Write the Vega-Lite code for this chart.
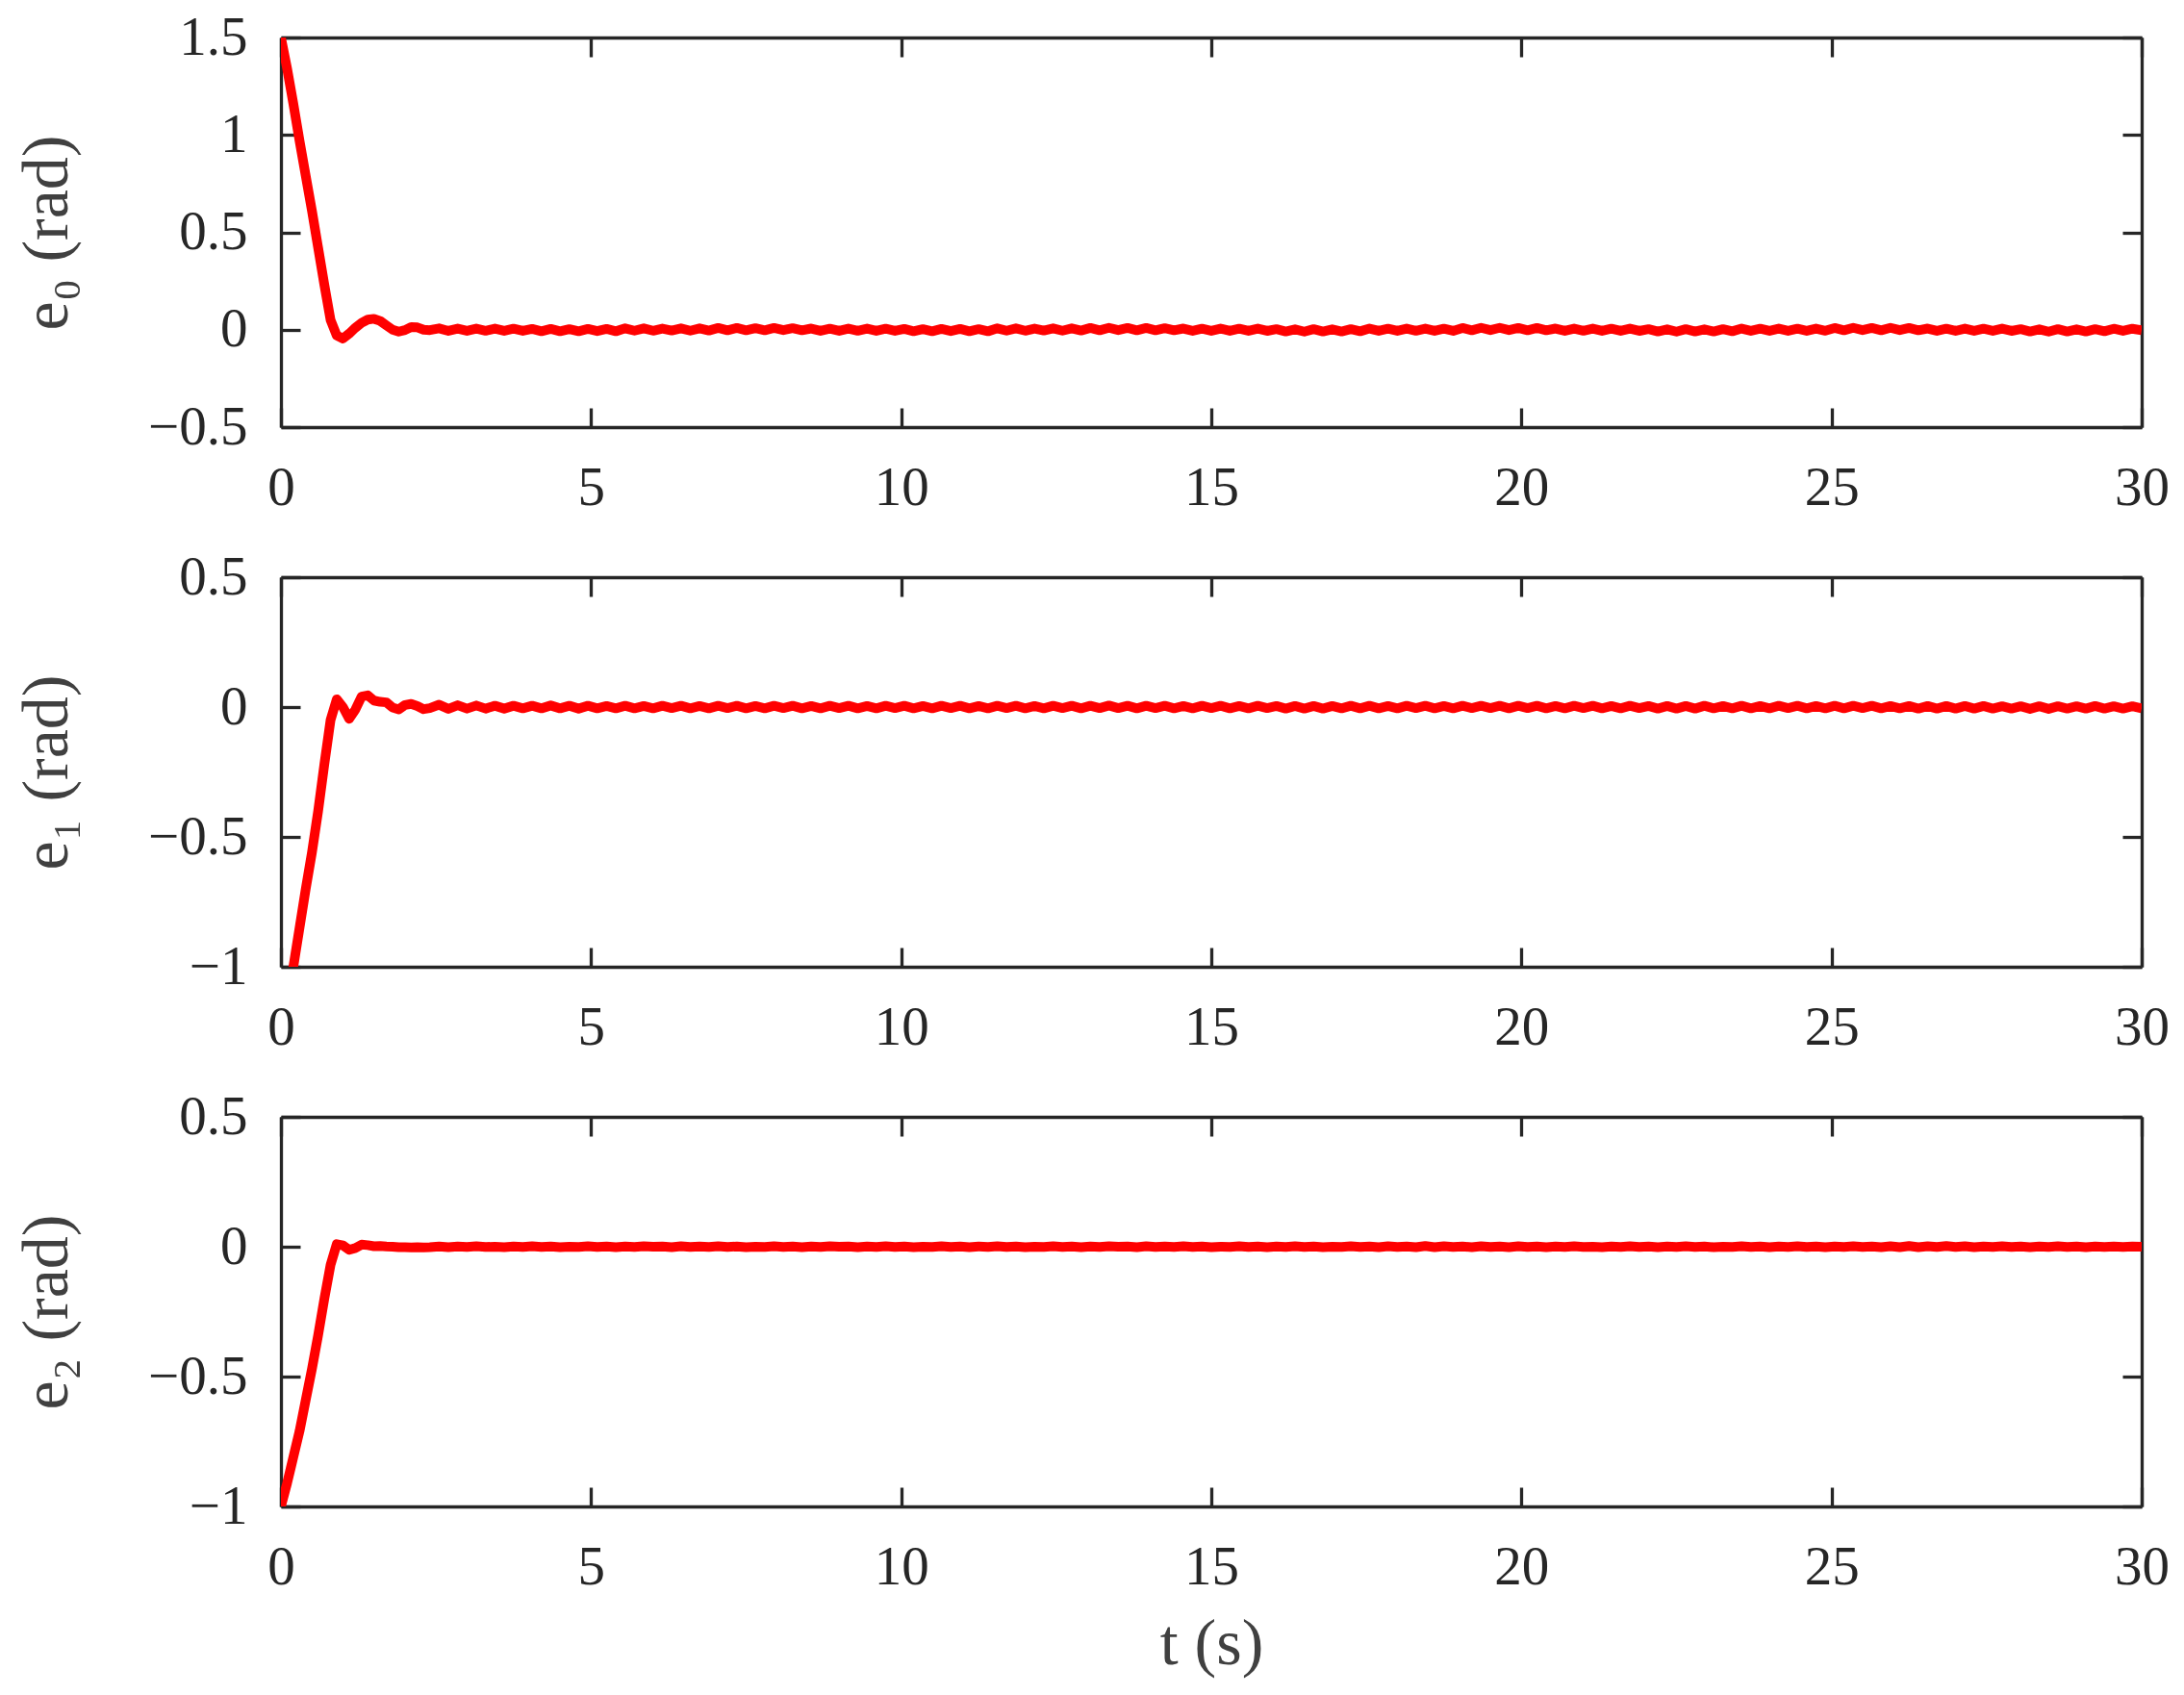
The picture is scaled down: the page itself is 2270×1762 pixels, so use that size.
{
"$schema": "https://vega.github.io/schema/vega-lite/v6.json",
"background": "white",
"padding": {"left": 15, "top": 10, "right": 10, "bottom": 10},
"bounds": "flush",
"spacing": 156,
"data": {"values": [
{"t":0,"e0":1.5,"e1":-1.3,"e2":-1.0},
{"t":0.1,"e0":1.34,"e1":-1.15,"e2":-0.91},
{"t":0.2,"e0":1.16,"e1":-1.0,"e2":-0.81},
{"t":0.3,"e0":0.97,"e1":-0.85,"e2":-0.71},
{"t":0.4,"e0":0.79,"e1":-0.7,"e2":-0.59},
{"t":0.5,"e0":0.61,"e1":-0.56,"e2":-0.47},
{"t":0.6,"e0":0.42,"e1":-0.4,"e2":-0.34},
{"t":0.7,"e0":0.23,"e1":-0.22,"e2":-0.2},
{"t":0.8,"e0":0.05,"e1":-0.05,"e2":-0.07},
{"t":0.9,"e0":-0.03,"e1":0.03,"e2":0.01},
{"t":1.0,"e0":-0.045,"e1":0.0,"e2":0.005},
{"t":1.1,"e0":-0.02,"e1":-0.045,"e2":-0.012},
{"t":1.2,"e0":0.01,"e1":-0.01,"e2":-0.005},
{"t":1.3,"e0":0.035,"e1":0.04,"e2":0.008},
{"t":1.4,"e0":0.052,"e1":0.045,"e2":0.006},
{"t":1.5,"e0":0.056,"e1":0.025,"e2":0.002},
{"t":1.6,"e0":0.045,"e1":0.02,"e2":0.003},
{"t":1.7,"e0":0.022,"e1":0.018,"e2":0.001},
{"t":1.8,"e0":0.0,"e1":-0.002,"e2":0.0},
{"t":1.9,"e0":-0.01,"e1":-0.009,"e2":-0.002},
{"t":2.0,"e0":-0.002,"e1":0.008,"e2":-0.002},
{"t":2.1,"e0":0.014,"e1":0.012,"e2":-0.003},
{"t":2.2,"e0":0.012,"e1":0.004,"e2":-0.002},
{"t":2.3,"e0":0.0,"e1":-0.008,"e2":-0.003},
{"t":2.4,"e0":-0.002,"e1":-0.004,"e2":-0.002},
{"t":2.55,"e0":0.007,"e1":0.009,"e2":0.001},
{"t":2.7,"e0":-0.006,"e1":-0.007,"e2":-0.002},
{"t":2.85,"e0":0.006,"e1":0.007,"e2":0.001},
{"t":3.0,"e0":-0.006,"e1":-0.006,"e2":-0.001},
{"t":3.15,"e0":0.006,"e1":0.006,"e2":0.002},
{"t":3.3,"e0":-0.005,"e1":-0.006,"e2":-0.001},
{"t":3.45,"e0":0.006,"e1":0.005,"e2":0.0},
{"t":3.6,"e0":-0.006,"e1":-0.006,"e2":-0.002},
{"t":3.75,"e0":0.005,"e1":0.005,"e2":0.001},
{"t":3.9,"e0":-0.006,"e1":-0.005,"e2":-0.001},
{"t":4.05,"e0":0.004,"e1":0.005,"e2":0.002},
{"t":4.2,"e0":-0.008,"e1":-0.005,"e2":-0.001},
{"t":4.35,"e0":0.004,"e1":0.006,"e2":0.001},
{"t":4.5,"e0":-0.008,"e1":-0.005,"e2":-0.002},
{"t":4.65,"e0":0.003,"e1":0.005,"e2":0.0},
{"t":4.8,"e0":-0.008,"e1":-0.006,"e2":-0.001},
{"t":4.95,"e0":0.004,"e1":0.005,"e2":0.002},
{"t":5.1,"e0":-0.007,"e1":-0.005,"e2":-0.001},
{"t":5.25,"e0":0.004,"e1":0.004,"e2":0.001},
{"t":5.4,"e0":-0.008,"e1":-0.005,"e2":-0.002},
{"t":5.55,"e0":0.007,"e1":0.005,"e2":0.001},
{"t":5.7,"e0":-0.005,"e1":-0.005,"e2":-0.001},
{"t":5.85,"e0":0.007,"e1":0.004,"e2":0.002},
{"t":6.0,"e0":-0.005,"e1":-0.005,"e2":0.0},
{"t":6.15,"e0":0.006,"e1":0.005,"e2":0.001},
{"t":6.3,"e0":-0.004,"e1":-0.004,"e2":-0.002},
{"t":6.45,"e0":0.007,"e1":0.005,"e2":0.002},
{"t":6.6,"e0":-0.005,"e1":-0.005,"e2":-0.001},
{"t":6.75,"e0":0.007,"e1":0.004,"e2":0.001},
{"t":6.9,"e0":-0.004,"e1":-0.005,"e2":-0.001},
{"t":7.05,"e0":0.009,"e1":0.005,"e2":0.002},
{"t":7.2,"e0":-0.003,"e1":-0.004,"e2":-0.001},
{"t":7.35,"e0":0.009,"e1":0.005,"e2":0.001},
{"t":7.5,"e0":-0.003,"e1":-0.005,"e2":-0.002},
{"t":7.65,"e0":0.008,"e1":0.004,"e2":0.0},
{"t":7.8,"e0":-0.003,"e1":-0.005,"e2":-0.001},
{"t":7.95,"e0":0.009,"e1":0.005,"e2":0.002},
{"t":8.1,"e0":-0.002,"e1":-0.004,"e2":-0.001},
{"t":8.25,"e0":0.008,"e1":0.005,"e2":0.001},
{"t":8.4,"e0":-0.003,"e1":-0.005,"e2":-0.002},
{"t":8.55,"e0":0.006,"e1":0.004,"e2":0.001},
{"t":8.7,"e0":-0.006,"e1":-0.005,"e2":-0.001},
{"t":8.85,"e0":0.005,"e1":0.005,"e2":0.002},
{"t":9.0,"e0":-0.006,"e1":-0.004,"e2":0.0},
{"t":9.15,"e0":0.006,"e1":0.005,"e2":0.001},
{"t":9.3,"e0":-0.005,"e1":-0.005,"e2":-0.002},
{"t":9.45,"e0":0.006,"e1":0.004,"e2":0.001},
{"t":9.6,"e0":-0.006,"e1":-0.005,"e2":-0.001},
{"t":9.75,"e0":0.005,"e1":0.005,"e2":0.002},
{"t":9.9,"e0":-0.006,"e1":-0.004,"e2":-0.001},
{"t":10.05,"e0":0.004,"e1":0.005,"e2":0.001},
{"t":10.2,"e0":-0.008,"e1":-0.005,"e2":-0.002},
{"t":10.35,"e0":0.003,"e1":0.004,"e2":0.0},
{"t":10.5,"e0":-0.008,"e1":-0.005,"e2":-0.001},
{"t":10.65,"e0":0.004,"e1":0.005,"e2":0.002},
{"t":10.8,"e0":-0.007,"e1":-0.004,"e2":-0.001},
{"t":10.95,"e0":0.004,"e1":0.005,"e2":0.001},
{"t":11.1,"e0":-0.008,"e1":-0.005,"e2":-0.002},
{"t":11.25,"e0":0.003,"e1":0.004,"e2":0.001},
{"t":11.4,"e0":-0.008,"e1":-0.005,"e2":-0.001},
{"t":11.55,"e0":0.007,"e1":0.005,"e2":0.002},
{"t":11.7,"e0":-0.005,"e1":-0.004,"e2":-0.001},
{"t":11.85,"e0":0.007,"e1":0.005,"e2":0.001},
{"t":12.0,"e0":-0.005,"e1":-0.005,"e2":-0.002},
{"t":12.15,"e0":0.006,"e1":0.004,"e2":0.0},
{"t":12.3,"e0":-0.004,"e1":-0.005,"e2":-0.001},
{"t":12.45,"e0":0.007,"e1":0.005,"e2":0.002},
{"t":12.6,"e0":-0.005,"e1":-0.004,"e2":-0.001},
{"t":12.75,"e0":0.007,"e1":0.005,"e2":0.001},
{"t":12.9,"e0":-0.004,"e1":-0.005,"e2":-0.002},
{"t":13.05,"e0":0.009,"e1":0.005,"e2":0.001},
{"t":13.2,"e0":-0.003,"e1":-0.004,"e2":-0.001},
{"t":13.35,"e0":0.010,"e1":0.006,"e2":0.002},
{"t":13.5,"e0":-0.002,"e1":-0.004,"e2":0.0},
{"t":13.65,"e0":0.009,"e1":0.005,"e2":0.001},
{"t":13.8,"e0":-0.003,"e1":-0.005,"e2":-0.002},
{"t":13.95,"e0":0.009,"e1":0.005,"e2":0.002},
{"t":14.1,"e0":-0.003,"e1":-0.004,"e2":-0.001},
{"t":14.25,"e0":0.008,"e1":0.005,"e2":0.001},
{"t":14.4,"e0":-0.003,"e1":-0.005,"e2":-0.001},
{"t":14.55,"e0":0.006,"e1":0.004,"e2":0.002},
{"t":14.7,"e0":-0.006,"e1":-0.005,"e2":-0.001},
{"t":14.85,"e0":0.005,"e1":0.005,"e2":0.001},
{"t":15.0,"e0":-0.006,"e1":-0.004,"e2":-0.002},
{"t":15.15,"e0":0.006,"e1":0.005,"e2":0.0},
{"t":15.3,"e0":-0.006,"e1":-0.005,"e2":-0.001},
{"t":15.45,"e0":0.005,"e1":0.004,"e2":0.002},
{"t":15.6,"e0":-0.006,"e1":-0.005,"e2":-0.001},
{"t":15.75,"e0":0.006,"e1":0.005,"e2":0.001},
{"t":15.9,"e0":-0.006,"e1":-0.004,"e2":-0.002},
{"t":16.05,"e0":0.003,"e1":0.004,"e2":0.001},
{"t":16.2,"e0":-0.009,"e1":-0.006,"e2":-0.001},
{"t":16.35,"e0":0.002,"e1":0.004,"e2":0.002},
{"t":16.5,"e0":-0.010,"e1":-0.006,"e2":-0.001},
{"t":16.65,"e0":0.003,"e1":0.004,"e2":0.001},
{"t":16.8,"e0":-0.009,"e1":-0.006,"e2":-0.002},
{"t":16.95,"e0":0.002,"e1":0.004,"e2":0.0},
{"t":17.1,"e0":-0.009,"e1":-0.005,"e2":-0.001},
{"t":17.25,"e0":0.003,"e1":0.005,"e2":0.002},
{"t":17.4,"e0":-0.008,"e1":-0.005,"e2":-0.001},
{"t":17.55,"e0":0.006,"e1":0.005,"e2":0.001},
{"t":17.7,"e0":-0.006,"e1":-0.005,"e2":-0.002},
{"t":17.85,"e0":0.005,"e1":0.004,"e2":0.002},
{"t":18.0,"e0":-0.006,"e1":-0.005,"e2":-0.001},
{"t":18.15,"e0":0.006,"e1":0.005,"e2":0.001},
{"t":18.3,"e0":-0.005,"e1":-0.004,"e2":-0.002},
{"t":18.45,"e0":0.006,"e1":0.005,"e2":0.003},
{"t":18.6,"e0":-0.006,"e1":-0.005,"e2":-0.002},
{"t":18.75,"e0":0.005,"e1":0.004,"e2":0.002},
{"t":18.9,"e0":-0.006,"e1":-0.005,"e2":-0.001},
{"t":19.05,"e0":0.009,"e1":0.005,"e2":0.001},
{"t":19.2,"e0":-0.003,"e1":-0.004,"e2":-0.002},
{"t":19.35,"e0":0.010,"e1":0.005,"e2":0.002},
{"t":19.5,"e0":-0.002,"e1":-0.004,"e2":-0.001},
{"t":19.65,"e0":0.010,"e1":0.005,"e2":0.001},
{"t":19.8,"e0":-0.002,"e1":-0.005,"e2":-0.002},
{"t":19.95,"e0":0.009,"e1":0.005,"e2":0.002},
{"t":20.1,"e0":-0.003,"e1":-0.004,"e2":-0.001},
{"t":20.25,"e0":0.009,"e1":0.005,"e2":0.001},
{"t":20.4,"e0":-0.003,"e1":-0.005,"e2":-0.002},
{"t":20.55,"e0":0.006,"e1":0.004,"e2":0.001},
{"t":20.7,"e0":-0.006,"e1":-0.005,"e2":-0.001},
{"t":20.85,"e0":0.006,"e1":0.005,"e2":0.002},
{"t":21.0,"e0":-0.005,"e1":-0.004,"e2":-0.001},
{"t":21.15,"e0":0.006,"e1":0.005,"e2":0.0},
{"t":21.3,"e0":-0.006,"e1":-0.005,"e2":-0.002},
{"t":21.45,"e0":0.005,"e1":0.004,"e2":0.001},
{"t":21.6,"e0":-0.006,"e1":-0.005,"e2":-0.001},
{"t":21.75,"e0":0.006,"e1":0.005,"e2":0.002},
{"t":21.9,"e0":-0.006,"e1":-0.004,"e2":-0.001},
{"t":22.05,"e0":0.003,"e1":0.004,"e2":0.001},
{"t":22.2,"e0":-0.009,"e1":-0.006,"e2":-0.002},
{"t":22.35,"e0":0.002,"e1":0.004,"e2":0.001},
{"t":22.5,"e0":-0.010,"e1":-0.006,"e2":-0.001},
{"t":22.65,"e0":0.003,"e1":0.004,"e2":0.002},
{"t":22.8,"e0":-0.009,"e1":-0.006,"e2":-0.001},
{"t":22.95,"e0":0.002,"e1":0.005,"e2":0.001},
{"t":23.1,"e0":-0.009,"e1":-0.005,"e2":-0.002},
{"t":23.25,"e0":0.003,"e1":0.004,"e2":0.0},
{"t":23.4,"e0":-0.008,"e1":-0.005,"e2":-0.001},
{"t":23.55,"e0":0.006,"e1":0.005,"e2":0.002},
{"t":23.7,"e0":-0.006,"e1":-0.005,"e2":-0.001},
{"t":23.85,"e0":0.005,"e1":0.004,"e2":0.001},
{"t":24.0,"e0":-0.006,"e1":-0.005,"e2":-0.002},
{"t":24.15,"e0":0.006,"e1":0.005,"e2":0.001},
{"t":24.3,"e0":-0.006,"e1":-0.004,"e2":-0.001},
{"t":24.45,"e0":0.005,"e1":0.005,"e2":0.002},
{"t":24.6,"e0":-0.006,"e1":-0.005,"e2":-0.001},
{"t":24.75,"e0":0.006,"e1":0.004,"e2":0.001},
{"t":24.9,"e0":-0.005,"e1":-0.005,"e2":-0.002},
{"t":25.05,"e0":0.009,"e1":0.005,"e2":0.001},
{"t":25.2,"e0":-0.003,"e1":-0.005,"e2":-0.001},
{"t":25.35,"e0":0.010,"e1":0.005,"e2":0.002},
{"t":25.5,"e0":-0.002,"e1":-0.004,"e2":-0.001},
{"t":25.65,"e0":0.009,"e1":0.005,"e2":0.001},
{"t":25.8,"e0":-0.003,"e1":-0.005,"e2":-0.002},
{"t":25.95,"e0":0.010,"e1":0.004,"e2":0.002},
{"t":26.1,"e0":-0.002,"e1":-0.005,"e2":-0.002},
{"t":26.25,"e0":0.009,"e1":0.004,"e2":0.003},
{"t":26.4,"e0":-0.003,"e1":-0.006,"e2":-0.002},
{"t":26.55,"e0":0.006,"e1":0.004,"e2":0.002},
{"t":26.7,"e0":-0.006,"e1":-0.006,"e2":-0.001},
{"t":26.85,"e0":0.005,"e1":0.004,"e2":0.003},
{"t":27.0,"e0":-0.006,"e1":-0.006,"e2":-0.001},
{"t":27.15,"e0":0.006,"e1":0.004,"e2":0.002},
{"t":27.3,"e0":-0.006,"e1":-0.006,"e2":-0.002},
{"t":27.45,"e0":0.005,"e1":0.004,"e2":0.001},
{"t":27.6,"e0":-0.006,"e1":-0.006,"e2":-0.001},
{"t":27.75,"e0":0.006,"e1":0.003,"e2":0.002},
{"t":27.9,"e0":-0.006,"e1":-0.006,"e2":-0.001},
{"t":28.05,"e0":0.003,"e1":0.003,"e2":0.001},
{"t":28.2,"e0":-0.009,"e1":-0.007,"e2":-0.002},
{"t":28.35,"e0":0.002,"e1":0.003,"e2":0.001},
{"t":28.5,"e0":-0.010,"e1":-0.007,"e2":-0.001},
{"t":28.65,"e0":0.003,"e1":0.003,"e2":0.002},
{"t":28.8,"e0":-0.009,"e1":-0.006,"e2":-0.001},
{"t":28.95,"e0":0.002,"e1":0.003,"e2":0.001},
{"t":29.1,"e0":-0.009,"e1":-0.006,"e2":-0.002},
{"t":29.25,"e0":0.003,"e1":0.004,"e2":0.001},
{"t":29.4,"e0":-0.008,"e1":-0.006,"e2":-0.001},
{"t":29.55,"e0":0.005,"e1":0.003,"e2":0.001},
{"t":29.7,"e0":-0.006,"e1":-0.006,"e2":-0.001},
{"t":29.85,"e0":0.005,"e1":0.003,"e2":0.001},
{"t":30.0,"e0":-0.003,"e1":-0.005,"e2":0.0}
]},
"vconcat": [
{
"width": 1934, "height": 405,
"layer": [
{"mark": {"type": "line", "color": "#FF0000", "strokeWidth": 10, "strokeJoin": "round", "clip": true},
 "encoding": {
  "x": {"field": "t", "type": "quantitative", "scale": {"domain": [0, 30], "nice": false, "zero": false},
        "axis": {"orient": "bottom", "values": [0,5,10,15,20,25,30], "title": null, "format": "~g"}},
  "y": {"field": "e0", "type": "quantitative", "scale": {"domain": [-0.5, 1.5], "nice": false, "zero": false},
        "axis": {"orient": "left", "values": [-0.5,0,0.5,1,1.5], "title": "e₀ (rad)", "format": "~g"}}}},
{"mark": {"type": "line", "opacity": 0},
 "encoding": {
  "x": {"field": "t", "type": "quantitative", "axis": {"orient": "top", "values": [0,5,10,15,20,25,30], "labels": false, "title": null}},
  "y": {"field": "e0", "type": "quantitative", "axis": {"orient": "right", "values": [-0.5,0,0.5,1,1.5], "labels": false, "title": null}}}}
],
"resolve": {"axis": {"x": "independent", "y": "independent"}}
},
{
"width": 1934, "height": 405,
"layer": [
{"mark": {"type": "line", "color": "#FF0000", "strokeWidth": 10, "strokeJoin": "round", "clip": true},
 "encoding": {
  "x": {"field": "t", "type": "quantitative", "scale": {"domain": [0, 30], "nice": false, "zero": false},
        "axis": {"orient": "bottom", "values": [0,5,10,15,20,25,30], "title": null, "format": "~g"}},
  "y": {"field": "e1", "type": "quantitative", "scale": {"domain": [-1, 0.5], "nice": false, "zero": false},
        "axis": {"orient": "left", "values": [-1,-0.5,0,0.5], "title": "e₁ (rad)", "format": "~g"}}}},
{"mark": {"type": "line", "opacity": 0},
 "encoding": {
  "x": {"field": "t", "type": "quantitative", "axis": {"orient": "top", "values": [0,5,10,15,20,25,30], "labels": false, "title": null}},
  "y": {"field": "e1", "type": "quantitative", "axis": {"orient": "right", "values": [-1,-0.5,0,0.5], "labels": false, "title": null}}}}
],
"resolve": {"axis": {"x": "independent", "y": "independent"}}
},
{
"width": 1934, "height": 405,
"layer": [
{"mark": {"type": "line", "color": "#FF0000", "strokeWidth": 10, "strokeJoin": "round", "clip": true},
 "encoding": {
  "x": {"field": "t", "type": "quantitative", "scale": {"domain": [0, 30], "nice": false, "zero": false},
        "axis": {"orient": "bottom", "values": [0,5,10,15,20,25,30], "title": "t (s)", "format": "~g"}},
  "y": {"field": "e2", "type": "quantitative", "scale": {"domain": [-1, 0.5], "nice": false, "zero": false},
        "axis": {"orient": "left", "values": [-1,-0.5,0,0.5], "title": "e₂ (rad)", "format": "~g"}}}},
{"mark": {"type": "line", "opacity": 0},
 "encoding": {
  "x": {"field": "t", "type": "quantitative", "axis": {"orient": "top", "values": [0,5,10,15,20,25,30], "labels": false, "title": null}},
  "y": {"field": "e2", "type": "quantitative", "axis": {"orient": "right", "values": [-1,-0.5,0,0.5], "labels": false, "title": null}}}}
],
"resolve": {"axis": {"x": "independent", "y": "independent"}}
}
],
"config": {
 "view": {"stroke": null},
 "axis": {
  "grid": false,
  "domainColor": "#262626", "domainWidth": 3.3,
  "tickColor": "#262626", "tickWidth": 3.3, "tickSize": -20,
  "labelPadding": 55, "labelFont": "Liberation Serif", "labelFontSize": 57, "labelColor": "#262626",
  "labelOverlap": false, "labelFlush": false, "labelBound": false,
  "titleFont": "Liberation Serif", "titleFontSize": 68, "titleColor": "#404040", "titleFontWeight": "normal",
  "titlePadding": 70
 },
 "axisBottom": {"titlePadding": 18}
}
}
